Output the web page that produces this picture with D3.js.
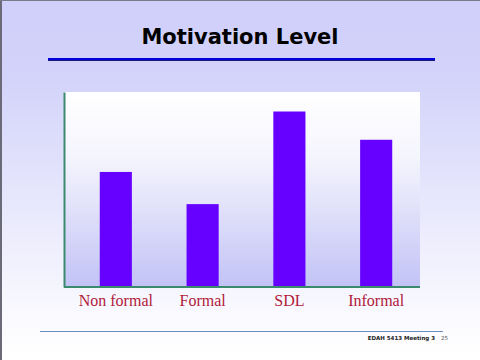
<!DOCTYPE html>
<html>
<head>
<meta charset="utf-8">
<script src="https://cdn.jsdelivr.net/npm/d3@7"></script>
<style>
  body { margin: 0; padding: 0; }
  svg { display: block; }
</style>
</head>
<body>
<div id="chart-area"></div>
<script>

// data
let categories = ["Non formal", "Formal", "SDL", "Informal"];
let motivation = [59, 42.5, 90, 75.5];
let title = "Motivation Level";
let footer = "EDAH 5413 Meeting 3";
let pageNo = "25";

let width = 480,
    height = 360;

let svg = d3.select("#chart-area").append("svg")
    .attr("width", width)
    .attr("height", height);

let defs = svg.append("defs");

// slide background: lavender at top fading to white
let bg = defs.append("linearGradient")
    .attr("id", "slideBg")
    .attr("x1", 0).attr("y1", 0).attr("x2", 0).attr("y2", 1);
bg.append("stop").attr("offset", "0%").attr("stop-color", "#cfcffa");
bg.append("stop").attr("offset", "20%").attr("stop-color", "#d2d2fa");
bg.append("stop").attr("offset", "90%").attr("stop-color", "#fbfbff");
bg.append("stop").attr("offset", "100%").attr("stop-color", "#ffffff");

// plot background: white at top, lavender at bottom
let pb = defs.append("linearGradient")
    .attr("id", "plotBg")
    .attr("x1", 0).attr("y1", 0).attr("x2", 0).attr("y2", 1);
pb.append("stop").attr("offset", "0%").attr("stop-color", "#ffffff");
pb.append("stop").attr("offset", "35%").attr("stop-color", "#f4f4fd");
pb.append("stop").attr("offset", "100%").attr("stop-color", "#c2c2f6");

svg.append("rect")
    .attr("width", width).attr("height", height)
    .attr("fill", "url(#slideBg)");

// gray frame on left and top
svg.append("rect").attr("x", 0).attr("y", 0).attr("width", 2).attr("height", height).attr("fill", "#6a6a78");
svg.append("rect").attr("x", 0).attr("y", 0).attr("width", width).attr("height", 1).attr("fill", "#7a7a88");

// title
svg.append("text")
    .attr("x", 240).attr("y", 44)
    .attr("text-anchor", "middle")
    .style("font-family", "DejaVu Sans, Verdana, sans-serif")
    .style("font-weight", "bold")
    .style("font-size", "21px")
    .attr("fill", "#000")
    .text(title);

svg.append("line")
    .attr("x1", 48).attr("x2", 435).attr("y1", 60.5).attr("y2", 60.5)
    .attr("stroke", "#1a1a7a").attr("stroke-width", 1);
svg.append("line")
    .attr("x1", 48).attr("x2", 435).attr("y1", 59).attr("y2", 59)
    .attr("stroke", "#0000dd").attr("stroke-width", 2);

// chart
let margin = {left: 64, top: 92, right: 420, bottom: 287};

let x = d3.scaleBand()
    .domain(categories)
    .range([margin.left + 8, margin.right])
    .paddingInner(0.63)
    .paddingOuter(0.32);

let y = d3.scaleLinear()
    .domain([0, 100])
    .range([margin.bottom, margin.top]);

svg.append("rect")
    .attr("x", margin.left).attr("y", margin.top)
    .attr("width", margin.right - margin.left)
    .attr("height", margin.bottom - margin.top)
    .attr("fill", "url(#plotBg)");

svg.selectAll(".bar")
    .data(motivation)
    .enter().append("rect")
    .attr("class", "bar")
    .attr("x", (d, i) => x(categories[i]))
    .attr("width", x.bandwidth())
    .attr("y", d => y(d))
    .attr("height", d => y(0) - y(d))
    .attr("fill", "#6600ff");

// axes
let xAxis = svg.append("g")
    .attr("transform", "translate(0," + margin.bottom + ")")
    .call(d3.axisBottom(x).tickSize(0).tickPadding(8));
xAxis.select(".domain").remove();
svg.append("line")
    .attr("x1", margin.left).attr("x2", margin.right)
    .attr("y1", margin.bottom).attr("y2", margin.bottom)
    .attr("stroke", "#3a8a6e").attr("stroke-width", 2);
xAxis.selectAll("text")
    .style("font-family", "Liberation Serif, Times New Roman, serif")
    .style("font-size", "16px")
    .attr("fill", "#b0203a");

let yAxis = svg.append("g")
    .attr("transform", "translate(" + margin.left + ",0)")
    .call(d3.axisLeft(y).ticks(0).tickSize(0).tickFormat(""));
yAxis.select(".domain").attr("stroke", "#3a8a6e").attr("stroke-width", 2);

// footer
svg.append("line")
    .attr("x1", 40).attr("x2", 443).attr("y1", 331.5).attr("y2", 331.5)
    .attr("stroke", "#6a8cc0").attr("stroke-width", 1);
svg.append("text")
    .attr("x", 435).attr("y", 340)
    .attr("text-anchor", "end")
    .style("font-family", "DejaVu Sans, Verdana, sans-serif")
    .style("font-weight", "bold")
    .style("font-size", "5.5px")
    .attr("fill", "#222")
    .text(footer);
svg.append("text")
    .attr("x", 441).attr("y", 340)
    .style("font-family", "DejaVu Sans, Verdana, sans-serif")
    .style("font-size", "5.5px")
    .attr("fill", "#555")
    .text(pageNo);

</script>
</body>
</html>
